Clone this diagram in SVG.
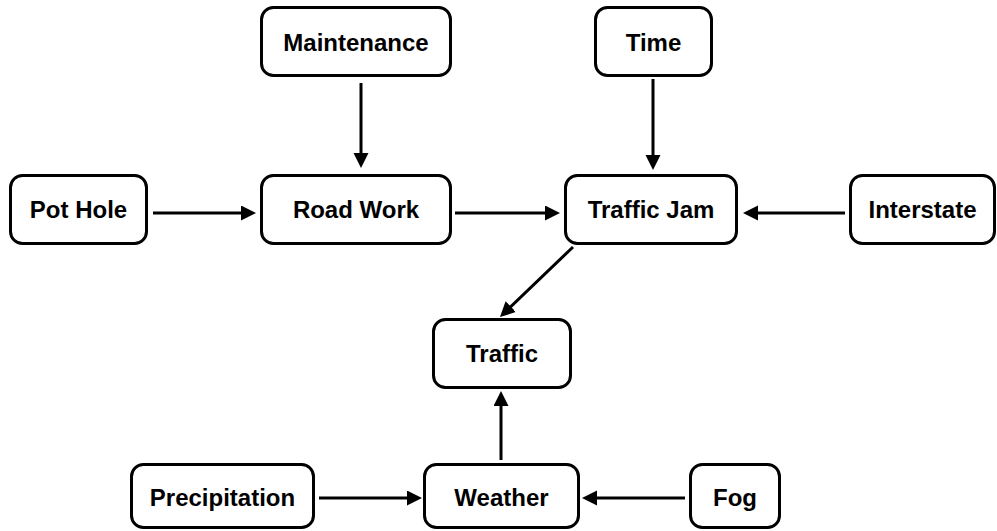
<svg xmlns="http://www.w3.org/2000/svg" width="997" height="531" viewBox="0 0 997 531">
<style>
.box{fill:#fff;stroke:#000;stroke-width:3}
.lbl{font-family:"Liberation Sans",Arial,sans-serif;font-weight:bold;font-size:24px;fill:#000;text-anchor:middle}
.edge{stroke:#000;stroke-width:3;fill:none;marker-end:url(#ah)}
</style>
<defs>
<marker id="ah" markerUnits="userSpaceOnUse" markerWidth="16" markerHeight="16" refX="4" refY="7.5" orient="auto">
<path d="M0,0 L15,7.5 L0,15 z" fill="#000"/>
</marker>
</defs>
<rect width="997" height="531" fill="#fff"/>
<g id="connectors">
<line class="edge" x1="361" y1="83" x2="361" y2="157"/>
<line class="edge" x1="153" y1="213" x2="245" y2="213"/>
<line class="edge" x1="455" y1="213" x2="549" y2="213"/>
<line class="edge" x1="653" y1="79" x2="653" y2="159"/>
<line class="edge" x1="845" y1="213" x2="754" y2="213"/>
<line class="edge" x1="573" y1="247" x2="507.9" y2="309.4"/>
<line class="edge" x1="501" y1="460" x2="501" y2="402"/>
<line class="edge" x1="319" y1="498" x2="411" y2="498"/>
<line class="edge" x1="685" y1="498" x2="593" y2="498"/>
</g>
<g id="maintenance"><rect class="box" x="261.5" y="7.5" width="189" height="68" rx="12"/><text class="lbl" x="356" y="50.5">Maintenance</text></g>
<g id="time"><rect class="box" x="595.5" y="7.5" width="116" height="68" rx="12"/><text class="lbl" x="653.5" y="50.5">Time</text></g>
<g id="pothole"><rect class="box" x="10.5" y="175.5" width="136" height="68" rx="12"/><text class="lbl" x="78.5" y="218">Pot Hole</text></g>
<g id="roadwork"><rect class="box" x="261.5" y="175.5" width="189" height="68" rx="12"/><text class="lbl" x="356" y="218">Road Work</text></g>
<g id="trafficjam"><rect class="box" x="565.5" y="175.5" width="171" height="68" rx="12"/><text class="lbl" x="651" y="218">Traffic Jam</text></g>
<g id="interstate"><rect class="box" x="850.5" y="175.5" width="144" height="68" rx="12"/><text class="lbl" x="922.5" y="218">Interstate</text></g>
<g id="traffic"><rect class="box" x="433.5" y="319.5" width="137" height="68" rx="12"/><text class="lbl" x="502" y="362">Traffic</text></g>
<g id="precipitation"><rect class="box" x="131.5" y="464.5" width="182" height="63" rx="12"/><text class="lbl" x="222.5" y="506">Precipitation</text></g>
<g id="weather"><rect class="box" x="424.5" y="464.5" width="154" height="63" rx="12"/><text class="lbl" x="501.5" y="506">Weather</text></g>
<g id="fog"><rect class="box" x="690.5" y="464.5" width="89" height="63" rx="12"/><text class="lbl" x="735" y="506">Fog</text></g>
</svg>
